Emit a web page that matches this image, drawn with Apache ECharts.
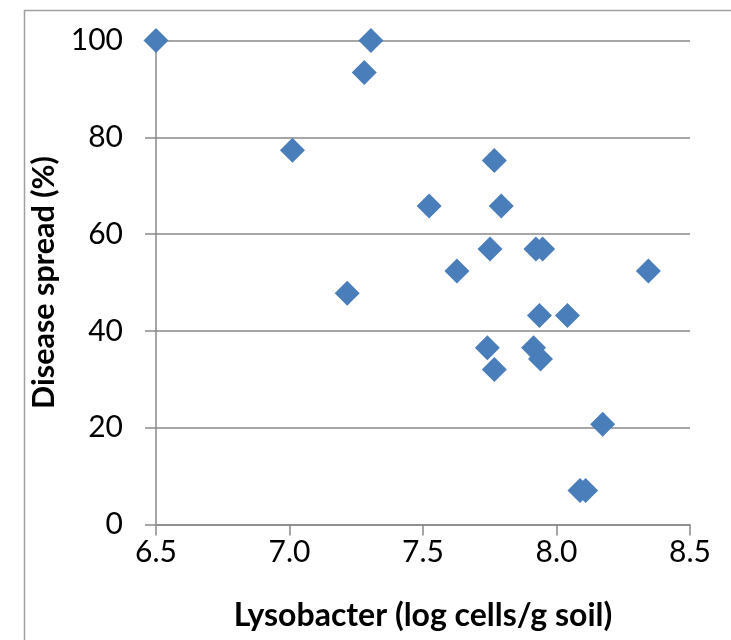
<!DOCTYPE html>
<html><head><meta charset="utf-8">
<script src="https://cdn.jsdelivr.net/npm/echarts@6/dist/echarts.min.js"></script>
<style>html,body{margin:0;padding:0;background:#fff}#c{width:731px;height:640px}</style>
</head><body><div id="c"></div>
<script>
var lysobacter = [6.5, 7.305, 7.28, 7.011, 7.216, 7.767, 7.523, 7.793, 7.751, 7.923, 7.948, 7.627, 8.344, 7.936, 8.041, 7.741, 7.914, 7.767, 7.94, 8.173, 8.088, 8.109];
var diseaseSpread = [100, 100, 93.4, 77.3, 47.8, 75.2, 65.8, 65.8, 56.9, 56.9, 56.9, 52.4, 52.4, 43.2, 43.2, 36.5, 36.5, 32.0, 34.2, 20.7, 7.0, 7.0];
var xTicks = [6.5, 7.0, 7.5, 8.0, 8.5];
var yTicks = [0, 20, 40, 60, 80, 100];

var pts = lysobacter.map(function(x, i){ return [x, diseaseSpread[i]]; });
var gray = '#898989';
var chart = echarts.init(document.getElementById('c'));
chart.setOption({
  animation: false,
  backgroundColor: '#fff',
  graphic: [{type:'rect', left: 22, top: 8, shape:{width:708, height:700}, style:{fill:'none', stroke:'#a0a0a0', lineWidth:1.5}, silent:true, z: -1}],
  grid: {left: 156, right: 41, top: 40.5, bottom: 115.5},
  xAxis: {
    type: 'value', min: 6.5, max: 8.5, interval: 0.5,
    name: 'Lysobacter (log cells/g soil)', nameLocation: 'middle', nameGap: 75,
    nameTextStyle: {fontFamily: 'Lato', fontWeight: 'bold', fontSize: 32, color: '#000'},
    axisLine: {show: true, lineStyle: {color: gray, width: 1.5}},
    axisTick: {show: true, length: 11, lineStyle: {color: gray, width: 1.5}},
    axisLabel: {margin: 13, fontFamily: 'Lato', fontSize: 30, color: '#000',
      formatter: function(v){ return xTicks.indexOf(v) >= 0 ? v.toFixed(1) : ''; }},
    splitLine: {show: false}
  },
  yAxis: {
    type: 'value', min: 0, max: 100, interval: 20,
    name: 'Disease spread (%)', nameLocation: 'middle', nameGap: 86,
    nameTextStyle: {fontFamily: 'Lato', fontWeight: 'bold', fontSize: 30.5, color: '#000'},
    axisLine: {show: true, lineStyle: {color: gray, width: 1.5}},
    axisTick: {show: true, length: 11, lineStyle: {color: gray, width: 1.5}},
    axisLabel: {margin: 33, fontFamily: 'Lato', fontSize: 30, color: '#000',
      formatter: function(v){ return yTicks.indexOf(v) >= 0 ? String(v) : ''; }},
    splitLine: {show: true, lineStyle: {color: gray, width: 1.5}}
  },
  series: [{
    type: 'scatter', data: pts, symbol: 'diamond', symbolSize: 25,
    itemStyle: {color: '#4a7ebb', opacity: 1}, clip: false
  }]
});
</script></body></html>
